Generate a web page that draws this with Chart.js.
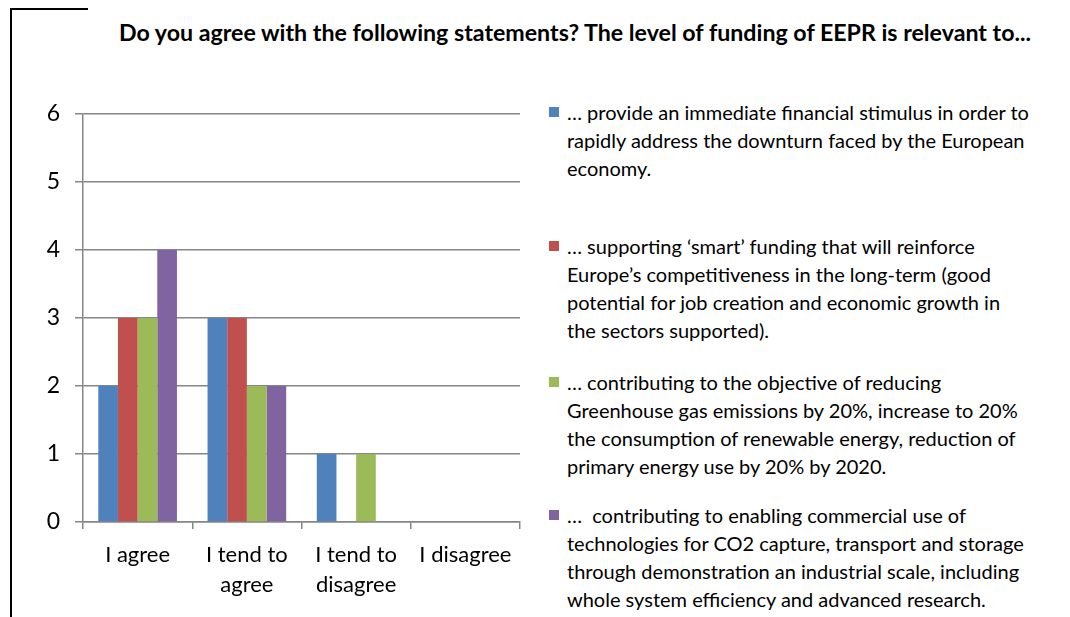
<!DOCTYPE html>
<html>
<head>
<meta charset="utf-8">
<script src="https://cdn.jsdelivr.net/npm/chart.js@4/dist/chart.umd.min.js"></script>
<style>
  html, body { margin: 0; padding: 0; background: #fff; }
  body { width: 1070px; height: 617px; position: relative; overflow: hidden; font-family: Lato, 'Open Sans', sans-serif; }
  .frame-v { position: absolute; left: 10px; top: 8px; width: 2px; height: 620px; background: #000; }
  .frame-h { position: absolute; left: 10px; top: 8px; width: 78px; height: 2px; background: #000; }
  #title { position: absolute; left: 70px; width: 1010px; top: 18px; text-align: center; font-weight: bold; font-size: 23.2px; color: #000; white-space: nowrap; }
  #wrap { position: absolute; left: 0; top: 0; width: 530px; height: 617px; }
  #legend { position: absolute; left: 548px; top: 0; width: 520px; }
  .item { position: absolute; left: 0; width: 520px; font-size: 20px; line-height: 28px; color: #000; padding-left: 19px; white-space: nowrap; }
  .item .sw { position: absolute; left: 1px; top: 9px; width: 10px; height: 10px; }
</style>
</head>
<body>
<div class="frame-v"></div>
<div class="frame-h"></div>
<div id="title">Do you agree with the following statements? The level of funding of EEPR is relevant to...</div>
<div id="wrap"><canvas id="chart"></canvas></div>
<div id="legend"></div>
<script>
const categories = [['I agree'], ['I tend to', 'agree'], ['I tend to', 'disagree'], ['I disagree']];
// series names, split into the lines they wrap on
const seriesNames = [
  ['\u2026 provide an immediate financial stimulus in order to', 'rapidly address the downturn faced by the European', 'economy.'],
  ['\u2026 supporting \u2018smart\u2019 funding that will reinforce', 'Europe\u2019s competitiveness in the long-term (good', 'potential for job creation and economic growth in', 'the sectors supported).'],
  ['\u2026 contributing to the objective of reducing', 'Greenhouse gas emissions by 20%, increase to 20%', 'the consumption of renewable energy, reduction of', 'primary energy use by 20% by 2020.'],
  ['\u2026\u00a0 contributing to enabling commercial use of', 'technologies for CO2 capture, transport and storage', 'through demonstration an industrial scale, including', 'whole system efficiency and advanced research.']
];
const stimulusValues = [2, 3, 1, 0];
const smartFundingValues = [3, 3, 0, 0];
const emissionsValues = [3, 2, 1, 0];
const co2CaptureValues = [4, 2, 0, 0];
const yTicks = [0, 1, 2, 3, 4, 5, 6];

const colors = ['#4F81BD', '#C0504D', '#9BBB59', '#8064A2'];
const seriesValues = [stimulusValues, smartFundingValues, emissionsValues, co2CaptureValues];

// legend on the right, one block per series
const legendTops = [98, 232, 368, 501];
const legendEl = document.getElementById('legend');
seriesNames.forEach((lines, i) => {
  const div = document.createElement('div');
  div.className = 'item';
  div.style.top = legendTops[i] + 'px';
  const sw = document.createElement('span');
  sw.className = 'sw';
  sw.style.background = colors[i];
  div.appendChild(sw);
  lines.forEach((line, j) => {
    if (j > 0) div.appendChild(document.createElement('br'));
    div.appendChild(document.createTextNode(line));
  });
  legendEl.appendChild(div);
});

const gridColor = '#868686';

new Chart(document.getElementById('chart'), {
  type: 'bar',
  data: {
    labels: categories,
    datasets: seriesValues.map((vals, i) => ({
      label: seriesNames[i].join(' '),
      data: vals,
      backgroundColor: colors[i],
      borderWidth: 0,
      categoryPercentage: 0.72,
      barPercentage: 1.0
    }))
  },
  options: {
    responsive: true,
    maintainAspectRatio: false,
    animation: false,
    layout: { padding: { top: 114, right: 10, left: 0, bottom: 0 } },
    plugins: {
      legend: { display: false },
      tooltip: { enabled: false }
    },
    scales: {
      x: {
        afterFit: (scale) => { scale.height = 95; },
        grid: { offset: true, drawOnChartArea: false, color: gridColor, lineWidth: 1.5, tickLength: 7 },
        border: { color: gridColor, width: 1.5 },
        ticks: { color: '#000', font: { family: 'Lato', size: 22, lineHeight: 1.36 }, padding: 11, maxRotation: 0, autoSkip: false }
      },
      y: {
        min: 0,
        max: 6,
        afterFit: (scale) => { scale.width = 83; },
        afterBuildTicks: (scale) => { scale.ticks = yTicks.map(v => ({ value: v })); },
        grid: { color: gridColor, lineWidth: 1.5, tickLength: 8 },
        border: { color: gridColor, width: 1.5 },
        ticks: { color: '#000', font: { family: 'Lato', size: 23 }, padding: 15 }
      }
    }
  }
});
</script>
</body>
</html>
